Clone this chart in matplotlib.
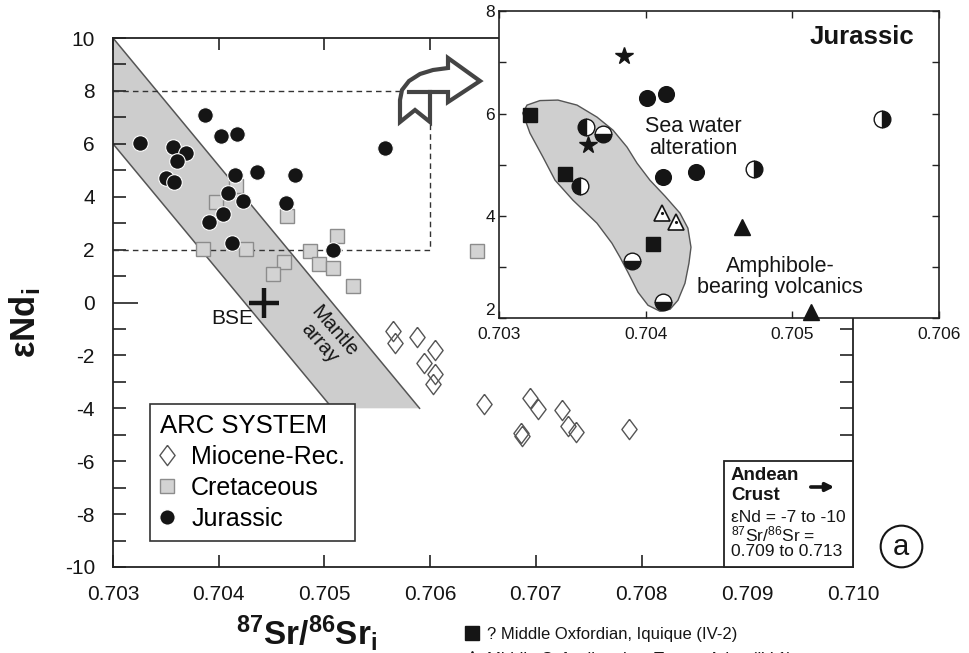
import matplotlib
matplotlib.use('Agg')
import matplotlib.pyplot as plt
import numpy as np
from matplotlib.patches import Polygon, Rectangle
from matplotlib.lines import Line2D

plt.rcParams['font.family'] = ['Liberation Sans', 'DejaVu Sans']
plt.rcParams['mathtext.fontset'] = 'custom'
plt.rcParams['mathtext.rm'] = 'Liberation Sans'
plt.rcParams['mathtext.bf'] = 'Liberation Sans:bold'
plt.rcParams['mathtext.it'] = 'Liberation Sans:italic'
plt.rcParams['axes.unicode_minus'] = False

# ---- main diagram data ----
# Jurassic arc (filled circles)
jur_sr = [0.70326, 0.70387, 0.70357, 0.70369, 0.70361, 0.70350, 0.70358, 0.70402,
          0.70417, 0.70415, 0.70436, 0.70472, 0.70409, 0.70423, 0.70464, 0.70404,
          0.70391, 0.70413, 0.70508, 0.70557]
jur_nd = [6.02, 7.09, 5.89, 5.67, 5.35, 4.70, 4.55, 6.30,
          6.37, 4.82, 4.92, 4.82, 4.13, 3.84, 3.77, 3.35,
          3.06, 2.24, 2.00, 5.86]

# Cretaceous arc (grey squares)
cre_sr = [0.70397, 0.70416, 0.70465, 0.70385, 0.70426, 0.70486, 0.70462,
          0.70451, 0.70495, 0.70508, 0.70512, 0.70527, 0.70644]
cre_nd = [3.79, 4.42, 3.28, 2.03, 2.03, 1.95, 1.55,
          1.07, 1.45, 1.30, 2.52, 0.63, 1.96]

# Miocene-Recent arc (open diamonds)
mio_sr = [0.70565, 0.70567, 0.70588, 0.70605, 0.70594, 0.70605, 0.70603, 0.70651,
          0.70694, 0.70702, 0.70725, 0.70730, 0.70738, 0.70686, 0.70687, 0.70788]
mio_nd = [-1.08, -1.52, -1.31, -1.78, -2.28, -2.72, -3.10, -3.82,
          -3.60, -4.02, -4.07, -4.68, -4.90, -4.95, -5.03, -4.80]

bse_sr, bse_nd = [0.70443], [0.0]

# mantle array band and the zoom box
mantle_sr = [0.703, 0.7059, 0.705075, 0.703]
mantle_nd = [10, -4, -4, 6]
box_sr = [0.703, 0.706, 0.706, 0.703]
box_nd = [8, 8, 2, 2]

xticks_main = [0.703, 0.704, 0.705, 0.706, 0.707, 0.708, 0.709, 0.710]
xlabels_main = ['0.703', '0.704', '0.705', '0.706', '0.707', '0.708', '0.709', '0.710']

# ---- inset (Jurassic) data ----
star_sr, star_nd = [0.70385, 0.70361], [7.13, 5.38]
fc_sr, fc_nd = [0.70401, 0.70414, 0.70412, 0.70434], [6.31, 6.39, 4.77, 4.86]
lhalf_sr, lhalf_nd = [0.70359, 0.70355], [5.74, 4.59]
rhalf_sr, rhalf_nd = [0.70474, 0.70561], [4.91, 5.90]
bhalf_sr, bhalf_nd = [0.70371, 0.70391, 0.70412], [5.60, 3.12, 2.33]
sq_sr, sq_nd = [0.70321, 0.70345, 0.70405], [5.97, 4.82, 3.45]
otri_sr, otri_nd = [0.70411, 0.70421], [4.06, 3.89]
ftri_sr, ftri_nd = [0.70466, 0.70513], [3.78, 2.13]

amph_sr = [0.703162, 0.703191, 0.703279, 0.703402, 0.703532, 0.703668, 0.703777,
           0.703873, 0.703941, 0.704029, 0.704132, 0.704234, 0.704288, 0.704309,
           0.704295, 0.704268, 0.704220, 0.704166, 0.704098, 0.704016, 0.703948,
           0.703879, 0.703825, 0.703770, 0.703668, 0.703504, 0.703382, 0.703300,
           0.703211]
amph_nd = [6.008, 6.164, 6.252, 6.262, 6.164, 5.930, 5.676,
           5.344, 5.031, 4.699, 4.387, 4.055, 3.762, 3.391,
           3.078, 2.688, 2.355, 2.180, 2.141, 2.258, 2.512,
           2.902, 3.195, 3.469, 3.859, 4.309, 4.699, 5.148,
           5.617]

W, H = 969, 653


def fx(px):
    return px / W


def fy(py):
    return 1 - py / H


diamond = [(0, 1), (0.75, 0), (0, -1), (-0.75, 0), (0, 1)]
ink = '#151515'

fig = plt.figure(figsize=(W / 100, H / 100), dpi=100)

# ================= main axes =================
ax = fig.add_axes([fx(113), fy(567), 740 / W, 529 / H])
ax.fill(mantle_sr, mantle_nd, color='#cdcdcd', lw=0, zorder=1)
ax.plot(mantle_sr[:2], mantle_nd[:2], color='#555555', lw=1.1, zorder=1.5)
ax.plot(mantle_sr[2:], mantle_nd[2:], color='#555555', lw=1.1, zorder=1.5)
ax.plot(box_sr, box_nd, ls=(0, (4, 3)), color='#333333', lw=1, zorder=1.6)

ax.plot(mio_sr, mio_nd, ls='none', marker=diamond, ms=14.6, mfc='none',
        mec='#555555', mew=1.0, zorder=3)
ax.plot(cre_sr, cre_nd, ls='none', marker='s', ms=10.5, mfc='#d3d3d3',
        mec='#8c8c8c', mew=1.0, zorder=4)
ax.plot(jur_sr, jur_nd, ls='none', marker='o', ms=11.2, mfc=ink,
        mec='white', mew=0.8, zorder=5)
ax.plot(bse_sr, bse_nd, ls='none', marker='+', ms=21, mew=3.2, color=ink, zorder=6)

ax.text(0.70413, -0.6, 'BSE', fontsize=15, ha='center', va='center', color=ink)
ax.text(0.705025, -1.32, 'Mantle\narray', fontsize=14.5, ha='center', va='center',
        rotation=-49, rotation_mode='anchor', color=ink, linespacing=1.0, zorder=2)

ax.set_xlim(0.703, 0.710)
ax.set_ylim(-10, 10)
ax.set_xticks(xticks_main)
ax.set_xticklabels(xlabels_main)
ax.set_yticks(range(-10, 11, 2))
ax.set_yticks(range(-9, 10, 2), minor=True)
ax.tick_params(which='both', direction='in', top=True, right=True, length=9.3,
               width=1.2, color='#222222', labelsize=15, labelcolor=ink, pad=13)
ax.tick_params(axis='x', which='major', length=8.6)
ax.yaxis.get_major_ticks()[5].tick1line.set_markersize(18)
for s in ax.spines.values():
    s.set_linewidth(1.3)
    s.set_color('#222222')

handles = [Line2D([], [], ls='none', marker=diamond, ms=14.6, mfc='none', mec='#555555'),
           Line2D([], [], ls='none', marker='s', ms=10.5, mfc='#d3d3d3', mec='#8c8c8c'),
           Line2D([], [], ls='none', marker='o', ms=11.2, mfc=ink, mec='white')]
leg = ax.legend(handles, ['Miocene-Rec.', 'Cretaceous', 'Jurassic'], title='ARC SYSTEM',
                loc='upper left', bbox_to_anchor=((150 - 113) / 740, (567 - 404) / 529),
                borderaxespad=0, fontsize=18, title_fontsize=18.5, fancybox=False,
                edgecolor='#333333', framealpha=1, handlelength=0.55, handletextpad=0.7,
                labelspacing=0.28, borderpad=0.4, alignment='left')
leg.get_frame().set_linewidth(1.2)
leg.set_zorder(7)

ax.add_patch(Rectangle(((724 - 113) / 740, 0), (853 - 724) / 740, (567 - 461) / 529,
                       transform=ax.transAxes, fc='white', ec='#222222', lw=1.3,
                       zorder=7, clip_on=False))

# zoom arrow (decoration)
arrow_px = [(480, 81), (448, 58), (448, 68), (433, 70), (420, 74), (409, 81), (402, 90),
            (400, 100), (400, 122), (415, 110), (430, 122), (430, 92), (448, 92), (448, 102)]
fig.add_artist(Polygon([(fx(x), fy(y)) for x, y in arrow_px], closed=True,
                       transform=fig.transFigure, fc='white', ec='#444444', lw=3,
                       joinstyle='miter', zorder=5))
fig.add_artist(Line2D([fx(409), fx(430)], [fy(92), fy(92)], color='#444444', lw=3,
                      transform=fig.transFigure, zorder=6))

# ================= inset =================
ins = fig.add_axes([fx(499), fy(318.5), 440 / W, 307.5 / H])
ins.fill(amph_sr, amph_nd, fc='#cfcfcf', ec='#555555', lw=1, zorder=1)
ins.plot(star_sr, star_nd, ls='none', marker='*', ms=13, color=ink, zorder=4)
ins.plot(fc_sr, fc_nd, ls='none', marker='o', ms=11.3, color=ink, zorder=3)
ins.plot(lhalf_sr, lhalf_nd, ls='none', marker='o', ms=12, fillstyle='left',
         mfc=ink, mfcalt='white', mec=ink, mew=1, zorder=3)
ins.plot(rhalf_sr, rhalf_nd, ls='none', marker='o', ms=12, fillstyle='right',
         mfc=ink, mfcalt='white', mec=ink, mew=1, zorder=3)
ins.plot(bhalf_sr, bhalf_nd, ls='none', marker='o', ms=12, fillstyle='bottom',
         mfc=ink, mfcalt='white', mec=ink, mew=1, zorder=3)
ins.plot(sq_sr, sq_nd, ls='none', marker='s', ms=10.5, color=ink, zorder=3)
ins.plot(otri_sr, otri_nd, ls='none', marker='^', ms=12, mfc='white', mec=ink,
         mew=1.2, zorder=3)
ins.plot(otri_sr, otri_nd, ls='none', marker='.', ms=2.5, color=ink, zorder=3)
ins.plot(ftri_sr, ftri_nd, ls='none', marker='^', ms=11.3, color=ink, zorder=3,
         clip_on=False)

ins.set_xlim(0.703, 0.706)
ins.set_ylim(2, 8)
ins.set_xticks([0.703, 0.704, 0.705, 0.706])
ins.set_xticklabels(['0.703', '0.704', '0.705', '0.706'])
ins.set_yticks([2, 4, 6, 8])
ins.set_yticks([3, 5, 7], minor=True)
ins.tick_params(which='both', direction='in', top=True, right=True, length=5,
                width=1, color='#222222', labelsize=12.5, labelcolor=ink, pad=3)
ins.tick_params(axis='x', pad=6)
ins.get_yticklabels()[0].set_va('bottom')
for s in ins.spines.values():
    s.set_linewidth(1.2)
    s.set_color('#222222')

# ================= annotations =================
fig.text(fx(862), fy(37), 'Jurassic', fontsize=18.5, weight='bold', ha='center',
         va='center', color=ink)
fig.text(fx(693), fy(137.5), 'Sea water\nalteration', fontsize=15.5, ha='center',
         va='center', color=ink, linespacing=1.0)
fig.text(fx(780), fy(277), 'Amphibole-\nbearing volcanics', fontsize=15.5, ha='center',
         va='center', color=ink, linespacing=1.0)
ax.annotate('', xy=(807, H - 136), xytext=(747, H - 136), xycoords='figure pixels',
            arrowprops=dict(arrowstyle='-|>', lw=1.6, color=ink, mutation_scale=14))
ax.annotate('', xy=(680, H - 255), xytext=(713, H - 274), xycoords='figure pixels',
            arrowprops=dict(arrowstyle='-|>', lw=1.6, color=ink, mutation_scale=14))

fig.text(fx(731), fy(475), 'Andean', fontsize=13.5, weight='bold', ha='left',
         va='center', color=ink)
fig.text(fx(731), fy(495), 'Crust', fontsize=13.5, weight='bold', ha='left',
         va='center', color=ink)
ax.annotate('', xy=(837, H - 487), xytext=(808, H - 487), xycoords='figure pixels',
            arrowprops=dict(arrowstyle='-|>', lw=2.6, color=ink, mutation_scale=12),
            zorder=8)
fig.text(fx(731), fy(517), '\u03b5Nd = -7 to -10', fontsize=12.5, ha='left',
         va='center', color=ink)
fig.text(fx(731), fy(534), r'$^{87}$Sr/$^{86}$Sr =', fontsize=12.5, ha='left',
         va='center', color=ink)
fig.text(fx(731), fy(551), '0.709 to 0.713', fontsize=12.5, ha='left',
         va='center', color=ink)

fig.add_artist(Line2D([fx(901)], [fy(546)], marker='o', ms=30, mfc='white', mec=ink,
                      mew=1.5, transform=fig.transFigure))
fig.text(fx(901), fy(547), 'a', fontsize=21, ha='center', va='center', color=ink)

fig.text(fx(25), fy(323), r'$\mathbf{\varepsilon Nd_i}$', rotation=90, fontsize=25,
         ha='center', va='center', color=ink)
fig.text(fx(307), fy(633), r'$\mathbf{^{87}Sr/^{86}Sr_i}$', fontsize=24,
         ha='center', va='center', color=ink)

fig.add_artist(Line2D([fx(472)], [fy(633)], marker='s', ms=9.4, color=ink,
                      transform=fig.transFigure))
fig.text(fx(487), fy(634), '? Middle Oxfordian, Iquique (IV-2)', fontsize=12,
         ha='left', va='center', color=ink)
fig.add_artist(Line2D([fx(472)], [fy(658)], marker='^', ms=10, mfc='white', mec=ink,
                      transform=fig.transFigure))
fig.text(fx(487), fy(664), 'Middle Oxfordian, Los Torres, Arica (IV-1)', fontsize=12,
         ha='left', va='baseline', color=ink)

fig.savefig('out.png', dpi=100)
